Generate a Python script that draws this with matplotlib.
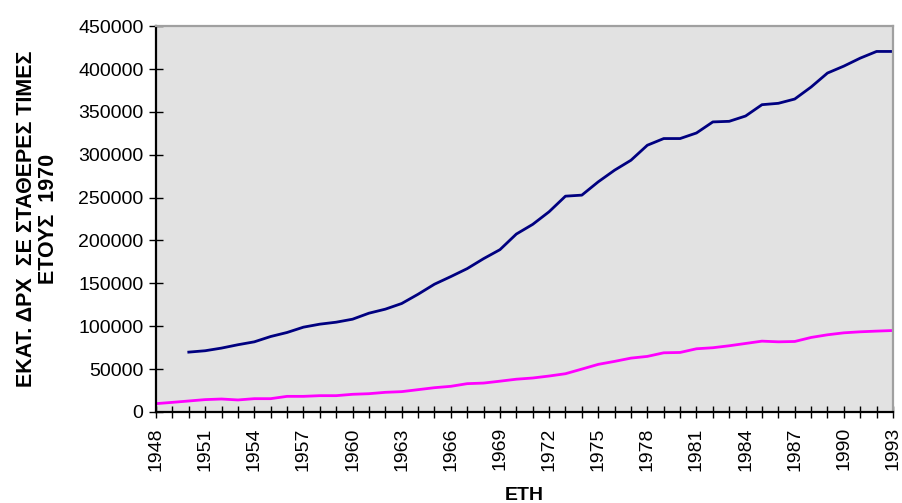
import numpy as np
import matplotlib.pyplot as plt
from matplotlib.ticker import FixedLocator, MultipleLocator

# years and series values (million drachmas, constant 1970 prices)
years_blue = list(range(1950, 1994))
blue = [69800, 71400, 74500, 78400, 81800, 88000, 92700, 98900, 102400, 104700,
        108200, 115200, 119900, 126500, 137300, 149000, 157900, 167200, 178800, 189300,
        207500, 218800, 233500, 251700, 252900, 268400, 282000, 293600, 311100, 318900,
        318900, 325400, 338300, 339000, 345200, 358400, 360000, 365000, 379000, 395300,
        403400, 412700, 420500, 420500]

years_mag = list(range(1948, 1994))
magenta = [9700, 11200, 12800, 14400, 15100, 14000, 15500, 15500, 18200, 18200,
           19000, 19000, 20600, 21300, 22900, 23700, 26000, 28300, 29900, 33000,
           33700, 35900, 38200, 39600, 41900, 44600, 50000, 55500, 59000, 62800,
           64800, 69000, 69400, 73700, 74900, 77200, 79900, 82600, 81800, 82200,
           86900, 90000, 92300, 93500, 94300, 95000]

year_ticks = list(range(1948, 1994, 3))
y_label = "ΕΚΑΤ. ΔΡΧ  ΣΕ ΣΤΑΘΕΡΕΣ ΤΙΜΕΣ\nΕΤΟΥΣ  1970"
x_label = "ΕΤΗ"

plt.rcParams['font.family'] = ['Liberation Sans', 'DejaVu Sans']

fig = plt.figure(figsize=(9.02, 5.03), dpi=100)
ax = fig.add_axes([0.173, 0.181, 0.817, 0.767])
ax.set_facecolor('#e2e2e2')

ax.plot(years_blue, blue, color='#000080', lw=2)
ax.plot(years_mag, magenta, color='#ff00ff', lw=2)

ax.set_xlim(1948, 1993)
ax.set_ylim(0, 450000)
ax.xaxis.set_major_locator(FixedLocator(year_ticks))
ax.xaxis.set_minor_locator(MultipleLocator(1))
ax.yaxis.set_major_locator(MultipleLocator(50000))

ax.tick_params(axis='x', which='both', direction='inout', length=8, width=1, labelsize=14, rotation=90, pad=7)
ax.tick_params(axis='y', direction='inout', length=10, width=1, labelsize=14, pad=4)

for s in ['left', 'bottom']:
    ax.spines[s].set_color('black')
    ax.spines[s].set_linewidth(1.6)
for s in ['top', 'right']:
    ax.spines[s].set_color('#a0a0a0')
    ax.spines[s].set_linewidth(1.6)

ax.set_ylabel(y_label, fontsize=15.5, fontweight='bold', linespacing=1.05, labelpad=14)
ax.set_xlabel(x_label, fontsize=14, fontweight='bold', labelpad=12)

fig.savefig('out.png', dpi=100)
